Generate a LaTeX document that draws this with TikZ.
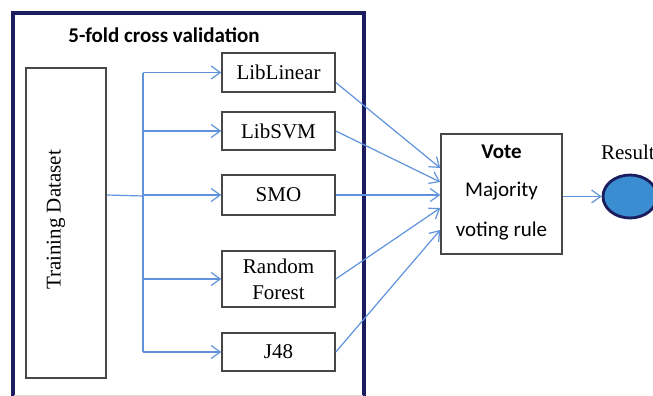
\documentclass[tikz,border=0pt]{standalone}
\usepackage{fontspec}
\setmainfont{Liberation Serif}
\newfontfamily\calfont{Carlito}
\usepackage{xcolor}
\usepackage{tikz}
\usetikzlibrary{arrows.meta, shapes.geometric, calc, positioning}
\definecolor{FrameNavy} {HTML}{1C1D5E}
\definecolor{LineBlue}  {HTML}{5F93DC}
\definecolor{BoxGrey}   {HTML}{474747}
\definecolor{DotBlue}   {HTML}{3A8DD0}

\begin{document}
\begin{tikzpicture}[x=0.5pt, y=-0.5pt, font=\fontsize{10.5}{12}\selectfont,
  clf/.style={draw=BoxGrey, line width=0.8pt, minimum width=56.5pt, align=center, inner sep=1pt},
  link/.style={LineBlue, line width=0.6pt},
  arr/.style={link, -{Straight Barb[length=4.5pt, width=6.5pt]}}]
  \useasboundingbox (0,0) rectangle (653,396);
  % Outer frame (runs off the bottom) and its title
  \draw[FrameNavy, line width=1.6pt] (13,402) -- (13,13) -- (364,13) -- (364,402);
  \draw[black!15, line width=0.5pt] (14,395) -- (363,395);
  \node[font=\calfont\bfseries\fontsize{10.5}{12}\selectfont] (title) at (164,35) {5-fold cross validation};
  % Data and the five classifiers
  \node[draw=BoxGrey, line width=0.8pt, minimum width=40pt, minimum height=155pt] (train) at (66,223) {};
  \node[rotate=90] (trainlbl) at (56,220) {Training Dataset};
  \node[clf, minimum height=19.5pt] (liblin) at (278.5,72.5) {LibLinear};
  \node[clf, minimum height=19pt]   (libsvm) at (278.5,131)  {LibSVM};
  \node[clf, minimum height=20pt]   (smo)    at (278.5,195)  {SMO};
  \node[clf, minimum height=28pt]   (rf)     at (278.5,279)  {Random\\[1pt]Forest};
  \node[clf, minimum height=19pt]   (jfe)    at (278.5,352)  {J48};
  % Vote and result
  \node[draw=BoxGrey, line width=0.8pt, minimum width=60.5pt, minimum height=60pt] (vote) at (501.5,194) {};
  \node[font=\calfont\bfseries\fontsize{10.5}{12}\selectfont] (votelbl) at (501.5,152) {Vote};
  \node[font=\calfont\fontsize{10.5}{12}\selectfont] (majlbl) at (501.5,191) {Majority};
  \node[font=\calfont\fontsize{10.5}{12}\selectfont] (rulelbl) at (501.5,231) {voting rule};
  \node[ellipse, draw=FrameNavy, line width=1.4pt, fill=DotBlue, minimum width=27pt, minimum height=21.5pt, inner sep=0pt] (res) at (630,196.5) {};
  \node[anchor=west] (reslbl) at (594,152) {Result};
  % Split lines
  \coordinate (split) at (143,196);
  \draw[link] (train.east |- smo) -- (split);
  \draw[link] (split |- liblin) -- (split |- jfe);
  \foreach \c in {liblin, libsvm, smo, rf, jfe}
    \draw[arr] (split |- \c) -- (\c.west);
  % Into the vote
  \draw[arr] ([yshift=-5pt]liblin.east) -- ([yshift=13pt]vote.west);
  \draw[arr] (libsvm.east) -- ([yshift=6pt]vote.west);
  \draw[arr] (smo.east) -- (smo.east -| vote.west);
  \draw[arr] (rf.east) -- ([yshift=-7pt]vote.west);
  \draw[arr] (jfe.east) -- ([yshift=-18pt]vote.west);
  \draw[arr] (vote.east |- res) -- (res.west);
\end{tikzpicture}
\end{document}
